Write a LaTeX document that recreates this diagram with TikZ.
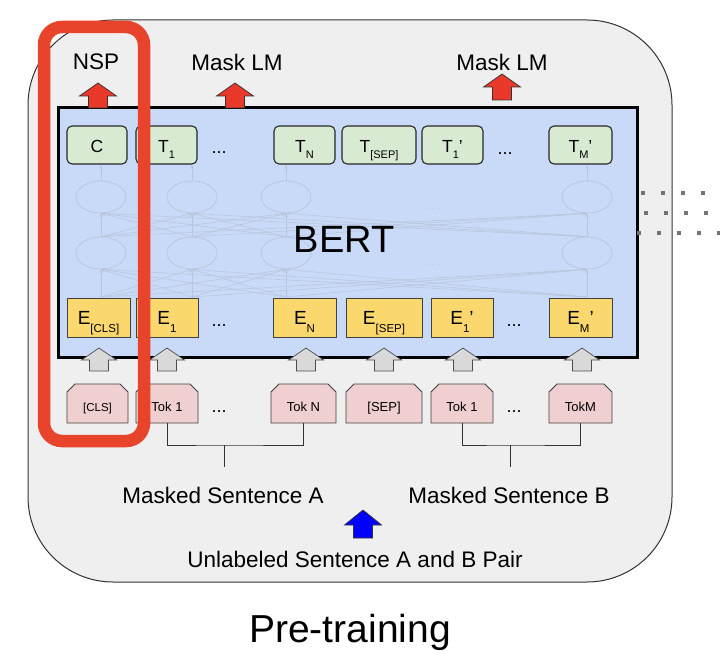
\documentclass[tikz,border=0pt]{standalone}
\usepackage{fontspec}
\setmainfont{Liberation Sans}
\usetikzlibrary{shapes.misc,shapes.geometric,arrows.meta}
\definecolor{outerbg}{HTML}{EFEFEF}
\definecolor{bertblue}{HTML}{C9DAF8}
\definecolor{outgreen}{HTML}{D9EAD3}
\definecolor{embyellow}{HTML}{FBD86E}
\definecolor{tokpink}{HTML}{EFCFCF}
\definecolor{netgray}{HTML}{B9C5DA}
\definecolor{hlred}{HTML}{E8432B}
\definecolor{arrred}{HTML}{E8392B}
\definecolor{arrgray}{HTML}{D9D9D9}
\newcommand{\tsub}[1]{\raisebox{-6pt}{\fontsize{11}{11}\selectfont #1}}
\newcommand{\esub}[1]{\raisebox{-8.5pt}{\fontsize{11.5}{11.5}\selectfont #1}}
\begin{document}
\begin{tikzpicture}[x=1pt,y=-1pt,
  outbox/.style={draw=black!85,line width=1.1pt,rounded corners=5pt,fill=outgreen,minimum height=38pt,inner sep=0pt,text height=15pt,text depth=0pt,font=\fontsize{17.5}{17.5}\selectfont},
  embbox/.style={draw=black!75,line width=0.9pt,fill=embyellow,minimum height=39pt,inner sep=0pt,text height=13.5pt,text depth=0pt,font=\fontsize{19}{19}\selectfont},
  tokbox/.style={draw=black!75,line width=0.9pt,fill=tokpink,chamfered rectangle,chamfered rectangle corners={north west,north east},chamfered rectangle xsep=4pt,chamfered rectangle ysep=4pt,minimum height=39pt,inner sep=0pt,text height=15pt,text depth=0pt,font=\fontsize{13}{13}\selectfont},
  netnode/.style={ellipse,draw=netgray,line width=0.7pt,minimum width=50pt,minimum height=32pt,inner sep=0pt},
  net/.style={draw=netgray,line width=0.55pt,-{Stealth[length=4pt,width=3.5pt]}},
  lbl/.style={font=\fontsize{22.5}{22.5}\selectfont},
  gap/.style={font=\fontsize{18}{18}\selectfont,inner sep=0pt},
  bracket/.style={draw=black!80,line width=1pt}]
\useasboundingbox (0,0) rectangle (720,658);
\draw[fill=outerbg,draw=black!80,line width=1pt,rounded corners=85pt] (28,20) rectangle (672,582);
\node[draw,line width=3pt,fill=bertblue,minimum width=579pt,minimum height=249pt,inner sep=0pt] (bert) at (347.5,232.5) {};
% faint network inside the encoder
\foreach \x [count=\i] in {101,192,286,587} {
  \node[netnode] (u\i) at (\x,197) {};
  \node[netnode] (l\i) at (\x,253) {};
  \coordinate (t\i) at (\x,165);
  \coordinate (b\i) at (\x,297);
}
\foreach \i in {1,...,4} {
  \draw[net] (u\i.north) -- (t\i);
  \foreach \j in {1,...,4} {
    \draw[net] (l\i.north) -- (u\j.south);
    \draw[net] (b\i) -- (l\j.south);
  }
}
\node[text=netgray,font=\fontsize{10}{10}\selectfont,inner sep=0pt] (ndots1) at (432,209) {. . .};
\node[text=netgray,font=\fontsize{10}{10}\selectfont,inner sep=0pt] (ndots2) at (432,265) {. . .};
\node[font=\fontsize{38}{38}\selectfont] (bertlbl) at (344,239) {BERT};
% outputs
\node[outbox,minimum width=60pt] (c) at (97,145) {C};
\node[outbox,minimum width=61pt] (t1) at (166.5,145) {T\tsub{1}};
\node[outbox,minimum width=61pt] (tn) at (304.5,145) {T\tsub{N}};
\node[outbox,minimum width=74pt] (tsep) at (379,145) {T\tsub{[SEP]}};
\node[outbox,minimum width=61pt] (t1b) at (452.5,145) {T\tsub{1}'};
\node[outbox,minimum width=63pt] (tmb) at (580.5,145) {T\tsub{M}'};
\node[gap] (tdots1) at (219,153) {...};
\node[gap] (tdots2) at (505,154) {...};
% embeddings
\node[embbox,minimum width=63pt] (ecls) at (98.5,317.5) {E\esub{[CLS]}};
\node[embbox,minimum width=62pt] (e1) at (167,317.5) {E\esub{1}};
\node[embbox,minimum width=63pt] (en) at (304.5,317.5) {E\esub{N}};
\node[embbox,minimum width=76pt] (esep) at (384,317.5) {E\esub{[SEP]}};
\node[embbox,minimum width=62pt] (e1b) at (462,317.5) {E\esub{1}'};
\node[embbox,minimum width=63pt] (emb) at (580.5,317.5) {E\esub{M}'};
\node[gap] (edots1) at (219,326) {...};
\node[gap] (edots2) at (514,326) {...};
% tokens
\node[tokbox,minimum width=61pt,font=\fontsize{11.5}{11.5}\selectfont] (cls) at (97.5,403.5) {[CLS]};
\node[tokbox,minimum width=62pt] (tok1) at (167,403.5) {Tok 1};
\node[tokbox,minimum width=65pt] (tokn) at (303.5,403.5) {Tok N};
\node[tokbox,minimum width=76pt] (sep) at (384,403.5) {[SEP]};
\node[tokbox,minimum width=62pt] (tok1b) at (462,403.5) {Tok 1};
\node[tokbox,minimum width=63pt] (tokm) at (580.5,403.5) {TokM};
\node[gap] (kdots1) at (219,412) {...};
\node[gap] (kdots2) at (514,412) {...};
% block arrows
\foreach \x in {99,167,306,384,463,582}
  \draw[fill=arrgray,draw=black!70,line width=0.7pt] (\x-9.5,371) -- (\x-9.5,360) -- (\x-17.5,360) -- (\x,348) -- (\x+17.5,360) -- (\x+9.5,360) -- (\x+9.5,371) -- cycle;
\foreach \x/\t/\b in {98/83/108,235/83/108,502/74/100}
  \draw[fill=arrred,draw=black!80,line width=0.7pt] (\x-9.5,\b) -- (\x-9.5,\t+13) -- (\x-18.5,\t+13) -- (\x,\t) -- (\x+18.5,\t+13) -- (\x+9.5,\t+13) -- (\x+9.5,\b) -- cycle;
\draw[fill=blue,draw=black!80,line width=0.7pt] (353.5,538) -- (353.5,525) -- (344.5,525) -- (363,510) -- (381.5,525) -- (372.5,525) -- (372.5,538) -- cycle;
% labels
\node[lbl] (nsp) at (96,62) {NSP};
\node[lbl] (mlm1) at (237,62) {Mask LM};
\node[lbl] (mlm2) at (502,62) {Mask LM};
\node[lbl] (senta) at (223,495) {Masked Sentence A};
\node[lbl] (sentb) at (509,495) {Masked Sentence B};
\node[lbl] (pair) at (355,559) {Unlabeled Sentence A and B Pair};
\node[font=\fontsize{39}{39}\selectfont] (stage) at (350,632) {Pre-training};
% sentence brackets
\coordinate (ja) at (224,445);
\coordinate (ea) at (224,467);
\coordinate (jb) at (510,445);
\coordinate (eb) at (510,467);
\draw[bracket] (tok1.south) |- (ja) -| (tokn.south);
\draw[bracket] (ja) -- (ea);
\draw[bracket] (tok1b.south) |- (jb) -| (tokm.south);
\draw[bracket] (jb) -- (eb);
% continuation dots on the right
\foreach \y/\x in {193/643,213/646,233/639}
  \foreach \k in {0,...,4}
    \fill[black!55] (\x+20*\k-2,\y-2) rectangle ++(4,4);
% highlight
\draw[hlred,line width=12.5pt,rounded corners=18pt] (44,27) rectangle (144,441);
\end{tikzpicture}
\end{document}
